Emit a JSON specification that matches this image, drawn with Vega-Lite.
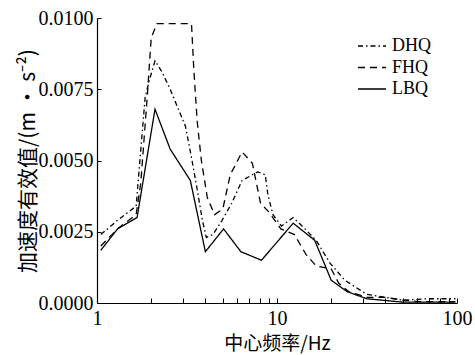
{
  "$schema": "https://vega.github.io/schema/vega-lite/v6.json",
  "width": 360,
  "height": 285,
  "autosize": {"type": "none"},
  "padding": {"left": 97, "top": 18, "right": 18, "bottom": 52},
  "background": "white",
  "config": {"view": {"stroke": null}},
  "data": {"values": [
    {"s": "DHQ", "f": 1.05, "v": 0.0024},
    {"s": "DHQ", "f": 1.3, "v": 0.0029},
    {"s": "DHQ", "f": 1.65, "v": 0.0034},
    {"s": "DHQ", "f": 1.85, "v": 0.0072},
    {"s": "DHQ", "f": 1.95, "v": 0.0078},
    {"s": "DHQ", "f": 2.1, "v": 0.0085},
    {"s": "DHQ", "f": 2.3, "v": 0.0081},
    {"s": "DHQ", "f": 2.55, "v": 0.0075},
    {"s": "DHQ", "f": 3.1, "v": 0.0062},
    {"s": "DHQ", "f": 3.35, "v": 0.0051},
    {"s": "DHQ", "f": 3.6, "v": 0.004},
    {"s": "DHQ", "f": 3.85, "v": 0.0029},
    {"s": "DHQ", "f": 4.05, "v": 0.0023},
    {"s": "DHQ", "f": 4.4, "v": 0.0024},
    {"s": "DHQ", "f": 4.95, "v": 0.0029},
    {"s": "DHQ", "f": 5.6, "v": 0.0035},
    {"s": "DHQ", "f": 6.4, "v": 0.0043},
    {"s": "DHQ", "f": 7.8, "v": 0.0046},
    {"s": "DHQ", "f": 8.6, "v": 0.0045},
    {"s": "DHQ", "f": 8.9, "v": 0.0038},
    {"s": "DHQ", "f": 9.5, "v": 0.0031},
    {"s": "DHQ", "f": 10.6, "v": 0.0027},
    {"s": "DHQ", "f": 12.3, "v": 0.003},
    {"s": "DHQ", "f": 14.3, "v": 0.0026},
    {"s": "DHQ", "f": 16.5, "v": 0.0022},
    {"s": "DHQ", "f": 19.7, "v": 0.0014},
    {"s": "DHQ", "f": 23.8, "v": 0.0008},
    {"s": "DHQ", "f": 31.6, "v": 0.0003},
    {"s": "DHQ", "f": 40, "v": 0.0002},
    {"s": "DHQ", "f": 50, "v": 0.0001},
    {"s": "DHQ", "f": 70, "v": 0.00015},
    {"s": "DHQ", "f": 98, "v": 0.00015},
    {"s": "FHQ", "f": 1.05, "v": 0.002},
    {"s": "FHQ", "f": 1.3, "v": 0.0026},
    {"s": "FHQ", "f": 1.65, "v": 0.0031},
    {"s": "FHQ", "f": 1.75, "v": 0.0042},
    {"s": "FHQ", "f": 1.9, "v": 0.0072},
    {"s": "FHQ", "f": 2.0, "v": 0.0093},
    {"s": "FHQ", "f": 2.15, "v": 0.0098},
    {"s": "FHQ", "f": 3.35, "v": 0.0098},
    {"s": "FHQ", "f": 3.45, "v": 0.0082},
    {"s": "FHQ", "f": 3.6, "v": 0.0064},
    {"s": "FHQ", "f": 3.8, "v": 0.005},
    {"s": "FHQ", "f": 4.1, "v": 0.0037},
    {"s": "FHQ", "f": 4.5, "v": 0.0031},
    {"s": "FHQ", "f": 5.0, "v": 0.0033},
    {"s": "FHQ", "f": 5.5, "v": 0.0045},
    {"s": "FHQ", "f": 6.4, "v": 0.0053},
    {"s": "FHQ", "f": 7.3, "v": 0.0049},
    {"s": "FHQ", "f": 8.1, "v": 0.0035},
    {"s": "FHQ", "f": 9.0, "v": 0.0032},
    {"s": "FHQ", "f": 10.5, "v": 0.0026},
    {"s": "FHQ", "f": 12.5, "v": 0.0024},
    {"s": "FHQ", "f": 14.5, "v": 0.0017},
    {"s": "FHQ", "f": 16.5, "v": 0.0013},
    {"s": "FHQ", "f": 20, "v": 0.0012},
    {"s": "FHQ", "f": 22, "v": 0.0007},
    {"s": "FHQ", "f": 25, "v": 0.0004},
    {"s": "FHQ", "f": 31.5, "v": 0.0002},
    {"s": "FHQ", "f": 40, "v": 0.0002},
    {"s": "FHQ", "f": 50, "v": 0.0001},
    {"s": "FHQ", "f": 63, "v": 0.00005},
    {"s": "FHQ", "f": 98, "v": 0.00005},
    {"s": "LBQ", "f": 1.05, "v": 0.00185},
    {"s": "LBQ", "f": 1.3, "v": 0.0026},
    {"s": "LBQ", "f": 1.67, "v": 0.003},
    {"s": "LBQ", "f": 2.1, "v": 0.0068},
    {"s": "LBQ", "f": 2.55, "v": 0.0054},
    {"s": "LBQ", "f": 3.3, "v": 0.0043},
    {"s": "LBQ", "f": 4.0, "v": 0.0018},
    {"s": "LBQ", "f": 5.05, "v": 0.0026},
    {"s": "LBQ", "f": 6.3, "v": 0.0018},
    {"s": "LBQ", "f": 8.2, "v": 0.0015},
    {"s": "LBQ", "f": 12.3, "v": 0.0028},
    {"s": "LBQ", "f": 16.2, "v": 0.0022},
    {"s": "LBQ", "f": 20, "v": 0.0008},
    {"s": "LBQ", "f": 24.5, "v": 0.0004},
    {"s": "LBQ", "f": 31.5, "v": 0.00015},
    {"s": "LBQ", "f": 50, "v": 0.00003},
    {"s": "LBQ", "f": 98, "v": 0.00003}
  ]},
  "mark": {"type": "line", "color": "black", "strokeWidth": 1.3, "clip": true},
  "encoding": {
    "x": {
      "field": "f", "type": "quantitative",
      "scale": {"type": "log", "domain": [1, 100]},
      "axis": {
        "title": "中心频率/Hz",
        "titleFont": "Noto Sans CJK SC", "titleFontSize": 19, "titleFontWeight": "normal", "titleColor": "black",
        "titlePadding": 6,
        "values": [1, 2, 3, 4, 5, 6, 7, 8, 9, 10, 20, 30, 40, 50, 60, 70, 80, 90, 100],
        "labelExpr": "(datum.value == 1 || datum.value == 10 || datum.value == 100) ? datum.label : ''",
        "format": "d",
        "labelFont": "Liberation Serif", "labelFontSize": 20, "labelColor": "black",
        "labelPadding": 10, "labelFlush": false, "labelOverlap": false,
        "grid": false, "domainColor": "black", "domainWidth": 1.2,
        "tickColor": "black", "tickSize": -5, "tickWidth": 1
      }
    },
    "y": {
      "field": "v", "type": "quantitative",
      "scale": {"domain": [0, 0.01], "nice": false},
      "axis": {
        "title": "加速度有效值/(m • s⁻²)",
        "titleFont": "Noto Sans CJK SC", "titleFontSize": 21, "titleFontWeight": "normal", "titleColor": "black",
        "titlePadding": 0,
        "values": [0, 0.0025, 0.005, 0.0075, 0.01],
        "format": ".4f",
        "labelFont": "Liberation Serif", "labelFontSize": 20, "labelColor": "black",
        "labelPadding": 8, "labelFlush": false,
        "grid": false, "domainColor": "black", "domainWidth": 1.2,
        "tickColor": "black", "tickSize": -4, "tickWidth": 1
      }
    },
    "strokeDash": {
      "field": "s", "type": "nominal",
      "scale": {"domain": ["DHQ", "FHQ", "LBQ"], "range": [[5, 3, 1.5, 3], [7, 5], [1, 0]]},
      "legend": {
        "title": null, "orient": "none", "legendX": 264, "legendY": 17,
        "symbolType": "M-1.4,0H1.4", "symbolSize": 400, "symbolStrokeWidth": 1.3, "symbolStrokeColor": "black",
        "labelFont": "Liberation Serif", "labelFontSize": 18, "labelColor": "black",
        "rowPadding": 1.5, "labelOffset": 9
      }
    }
  }
}
